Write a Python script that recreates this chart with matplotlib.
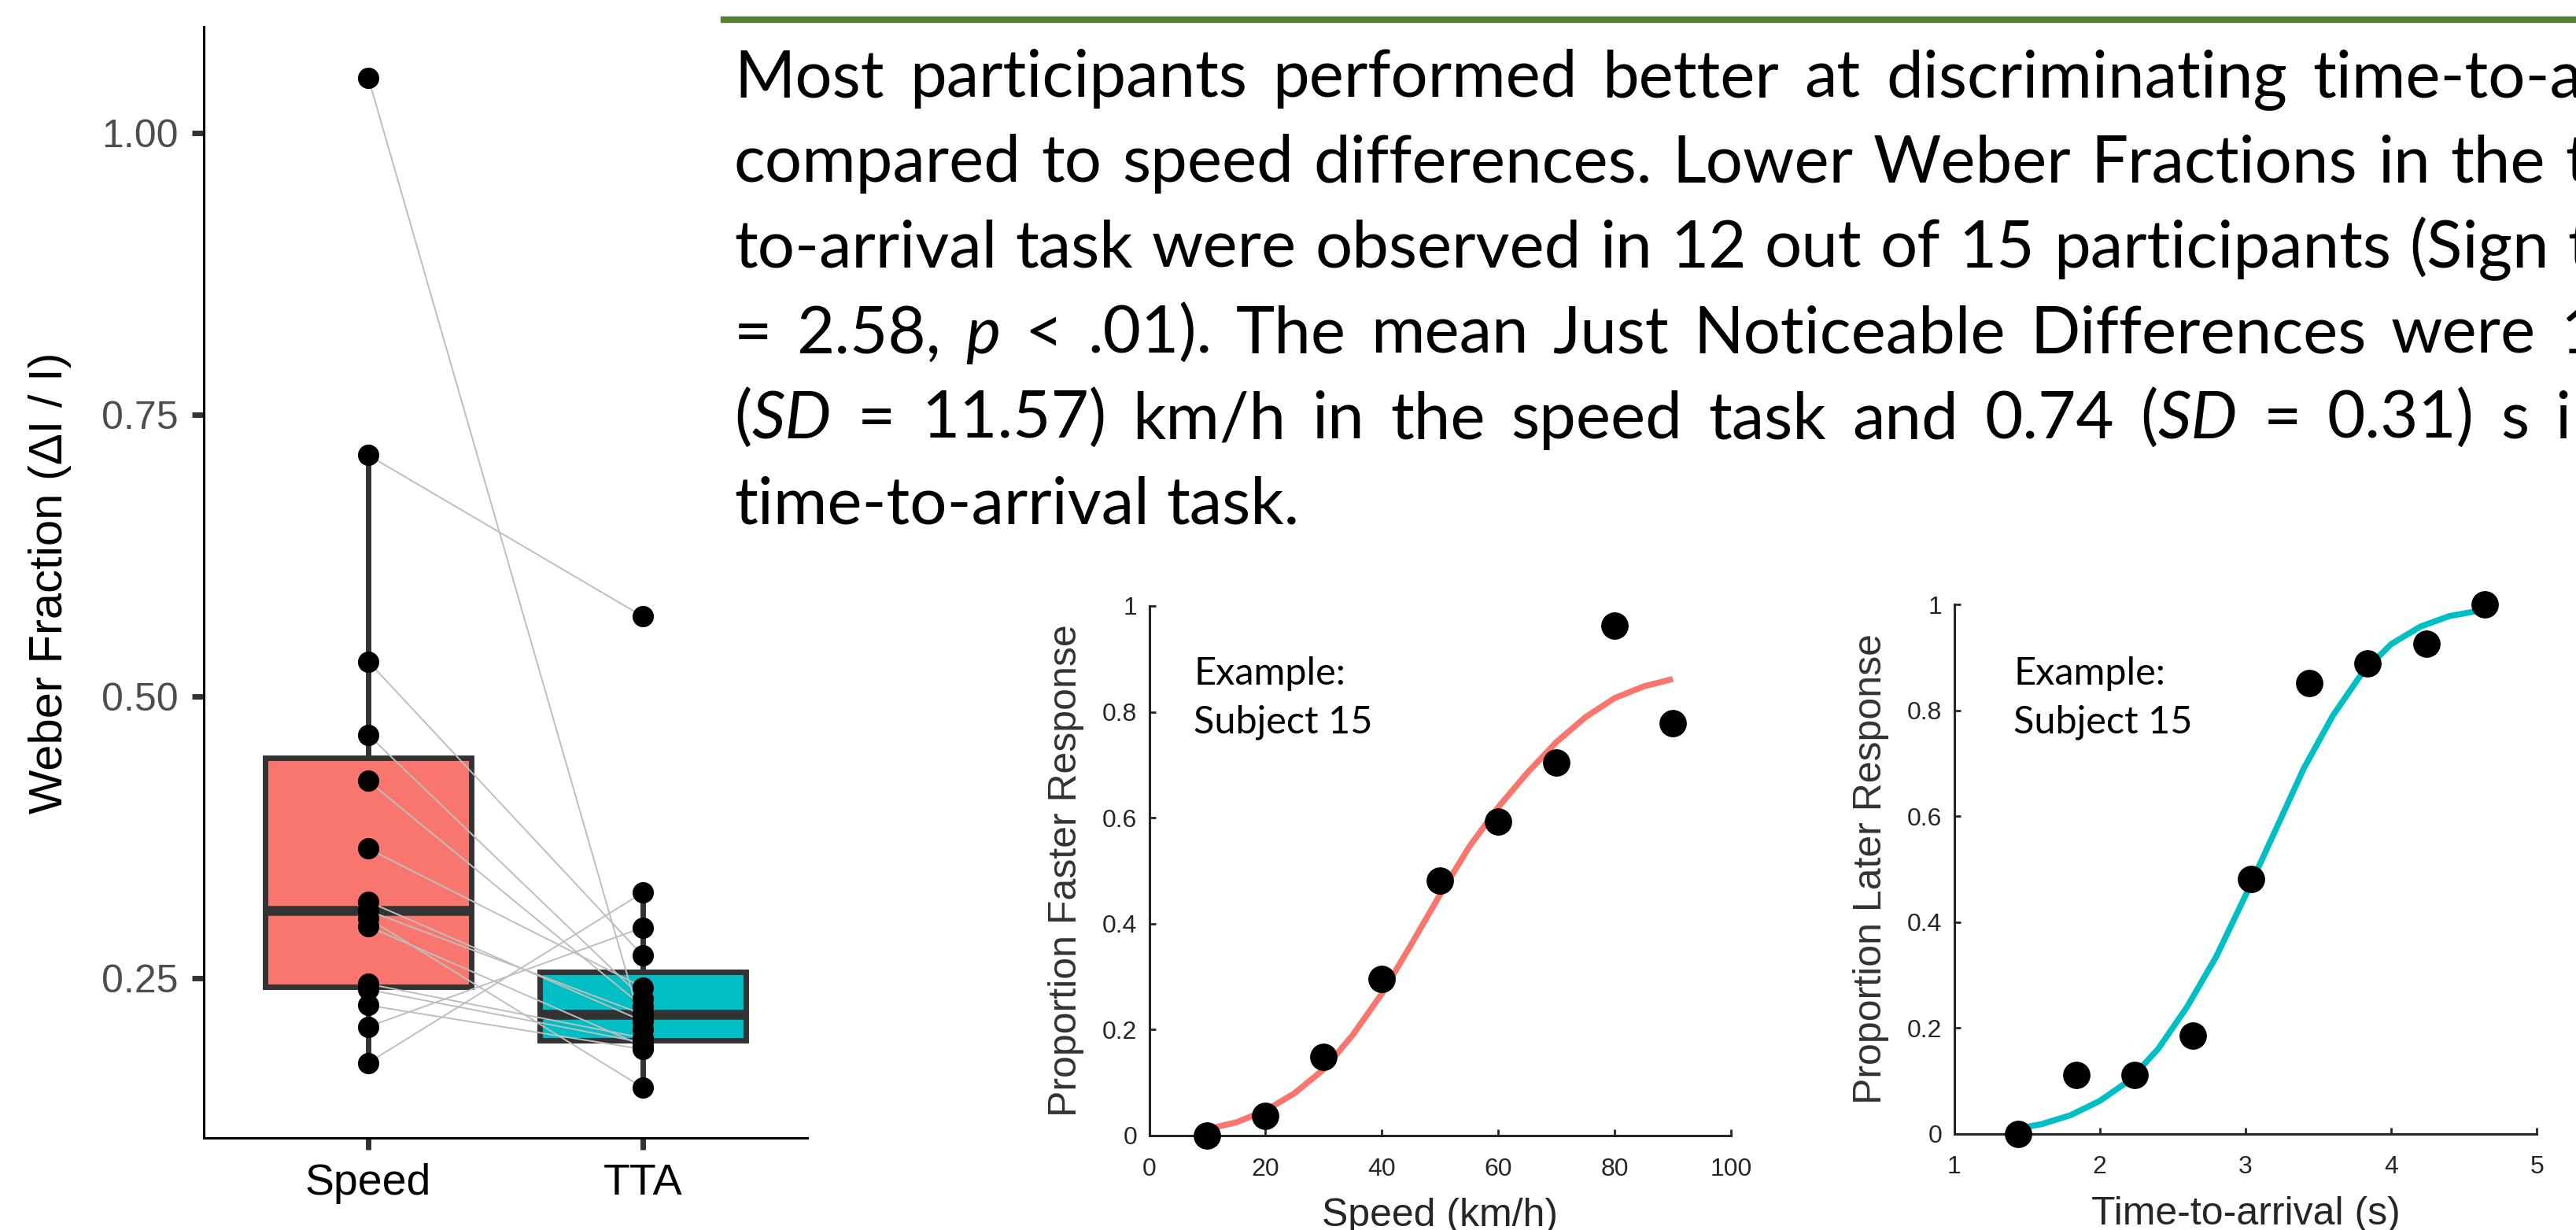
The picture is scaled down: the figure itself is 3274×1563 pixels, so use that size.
import matplotlib
matplotlib.use('Agg')
import matplotlib.pyplot as plt
from matplotlib.lines import Line2D

# %% data ------------------------------------------------------------------

# Weber fractions, one pair per participant (speed task, TTA task)
speed_wf = [1.049, 0.714, 0.531, 0.466, 0.425, 0.365, 0.318, 0.310,
            0.303, 0.296, 0.245, 0.240, 0.226, 0.207, 0.175]
tta_wf = [0.205, 0.571, 0.270, 0.232, 0.225, 0.242, 0.212, 0.218,
          0.153, 0.190, 0.197, 0.193, 0.187, 0.295, 0.326]
conditions = ['Speed', 'TTA']
wf_ticks = [0.25, 0.50, 0.75, 1.00]
wf_ticklabels = ['0.25', '0.50', '0.75', '1.00']

# example subject 15 - speed task
speed_levels = [10, 20, 30, 40, 50, 60, 70, 80, 90]
speed_prop = [0.0, 0.037, 0.148, 0.296, 0.481, 0.593, 0.704, 0.963, 0.778]
speed_fit_x = [10, 15, 20, 25, 30, 35, 40, 45, 50, 55, 60, 65, 70, 75, 80, 85, 90]
speed_fit_y = [0.012, 0.025, 0.047, 0.080, 0.125, 0.190, 0.268, 0.360, 0.455,
               0.545, 0.620, 0.685, 0.743, 0.790, 0.826, 0.848, 0.862]
speed_xticks = [0, 20, 40, 60, 80, 100]

# example subject 15 - time-to-arrival task
tta_levels = [1.44, 1.84, 2.24, 2.64, 3.04, 3.44, 3.84, 4.24, 4.64]
tta_prop = [0.0, 0.111, 0.111, 0.185, 0.481, 0.852, 0.889, 0.926, 1.0]
tta_fit_x = [1.44, 1.6, 1.8, 2.0, 2.2, 2.4, 2.6, 2.8, 3.0, 3.2, 3.4, 3.6,
             3.8, 4.0, 4.2, 4.4, 4.64]
tta_fit_y = [0.010, 0.018, 0.035, 0.062, 0.100, 0.160, 0.240, 0.335, 0.450,
             0.570, 0.690, 0.790, 0.870, 0.925, 0.958, 0.978, 0.990]
tta_xticks = [1, 2, 3, 4, 5]

prop_yticks = [0, 0.2, 0.4, 0.6, 0.8, 1]
prop_yticklabels = ['0', '0.2', '0.4', '0.6', '0.8', '1']

para_lines = [
    'Most participants performed better at discriminating time-to-a',
    'compared to speed differences. Lower Weber Fractions in the t',
    'to-arrival task were observed in 12 out of 15 participants (Sign t',
    '= 2.58, *p* < .01). The mean Just Noticeable Differences were 1',
    '(*SD* = 11.57) km/h in the speed task and 0.74 (*SD* = 0.31) s i',
    'time-to-arrival task.',
]

red = '#F8766D'
cyan = '#00BFC4'

# %% figure -----------------------------------------------------------------
W, H = 3274, 1563
fig = plt.figure(figsize=(W/100., H/100.), dpi=100)
fig.patch.set_facecolor('white')


def fx(px):
    return px/W


def fy(py):
    return 1 - py/H


# %% left panel: Weber fraction boxplot
ax = fig.add_axes([0.079, 0.0747, 0.2345, 0.9033])
ax.set_facecolor('none')
bp = ax.boxplot([speed_wf, tta_wf], positions=[1, 2], widths=0.75,
                patch_artist=True, showcaps=False, showfliers=False,
                boxprops=dict(edgecolor='#333333', linewidth=5),
                whiskerprops=dict(color='#333333', linewidth=5),
                medianprops=dict(color='#333333', linewidth=9,
                                 solid_capstyle='butt'))
for patch, c in zip(bp['boxes'], [red, cyan]):
    patch.set_facecolor(c)

for s, t in zip(speed_wf, tta_wf):
    ax.plot([1, 2], [s, t], color='#BEBEBE', lw=1.4, zorder=3)
ax.plot([1]*len(speed_wf), speed_wf, 'o', color='black', ms=18.5, zorder=4)
ax.plot([2]*len(tta_wf), tta_wf, 'o', color='black', ms=18.5, zorder=4)

lo = min(speed_wf + tta_wf)
hi = max(speed_wf + tta_wf)
ax.set_ylim(lo - 0.05*(hi - lo), hi + 0.05*(hi - lo))
ax.set_xlim(0.4, 2.6)
ax.set_xticks([1, 2])
ax.set_xticklabels(conditions, fontsize=40, family='Liberation Sans',
                   color='black')
ax.set_yticks(wf_ticks)
ax.set_yticklabels(wf_ticklabels, fontsize=36, family='Liberation Sans',
                   color='#4D4D4D')
ax.tick_params(axis='both', length=10.8, width=5, color='#333333')
ax.tick_params(axis='y', pad=12)
ax.tick_params(axis='x', pad=12)
for side in ['top', 'right']:
    ax.spines[side].set_visible(False)
for side in ['left', 'bottom']:
    ax.spines[side].set_linewidth(2.2)
    ax.spines[side].set_color('black')
ax.set_ylabel('Weber Fraction (\u0394I / I)', fontsize=43,
              family='Liberation Sans', color='black')
ax.yaxis.set_label_coords(-0.218, 0.5)


# %% right panels: psychometric functions for subject 15
def psy_panel(rect, xs, ys, fit_x, fit_y, color, xticks, xlabel, ylabel):
    a = fig.add_axes(rect)
    a.set_facecolor('none')
    a.plot(fit_x, fit_y, color=color, lw=5.5, zorder=2,
           solid_capstyle='butt')
    a.plot(xs, ys, 'o', color='black', ms=24, zorder=3, clip_on=False)
    a.set_xlim(xticks[0], xticks[-1])
    a.set_ylim(0, 1)
    a.set_xticks(xticks)
    a.set_xticklabels([str(v) for v in xticks], fontsize=23,
                      family='Liberation Sans', color='#262626')
    a.set_yticks(prop_yticks)
    a.set_yticklabels(prop_yticklabels, fontsize=23,
                      family='Liberation Sans', color='#262626')
    a.tick_params(direction='in', length=6, width=2, color='#262626')
    a.tick_params(axis='x', pad=20)
    a.tick_params(axis='y', pad=11)
    for side in ['top', 'right']:
        a.spines[side].set_visible(False)
    for side in ['left', 'bottom']:
        a.spines[side].set_linewidth(2.2)
        a.spines[side].set_color('#262626')
    a.set_xlabel(xlabel, fontsize=36, family='Liberation Sans',
                 color='#262626')
    a.set_ylabel(ylabel, fontsize=36, family='Liberation Sans',
                 color='#333333')
    a.xaxis.set_label_coords(0.5, -0.118)
    a.yaxis.set_label_coords(-0.112, 0.5)
    return a


ax_sp = psy_panel([0.4461, 0.0768, 0.2259, 0.4306], speed_levels, speed_prop,
                  speed_fit_x, speed_fit_y, red, speed_xticks,
                  'Speed (km/h)', 'Proportion Faster Response')
ax_tt = psy_panel([0.7586, 0.0783, 0.2262, 0.4303], tta_levels, tta_prop,
                  tta_fit_x, tta_fit_y, cyan, tta_xticks,
                  'Time-to-arrival (s)', 'Proportion Later Response')

for x0 in [1517, 2559]:
    fig.text(fx(x0), fy(870), 'Example:', fontsize=35, family='Lato',
             va='baseline', ha='left', color='black')
    fig.text(fx(x0), fy(932), 'Subject 15', fontsize=35, family='Lato',
             va='baseline', ha='left', color='black')

# %% green rule and justified paragraph
fig.add_artist(Line2D([fx(920), 1], [fy(25), fy(25)], color='#548235',
                      lw=6, transform=fig.transFigure))

PARA_FS = 60
renderer = fig.canvas.get_renderer()


def text_w(s, style):
    t = fig.text(0, 0, s, fontsize=PARA_FS, family='Lato', style=style)
    w = t.get_window_extent(renderer).width
    t.remove()
    return w


def split_word(word):
    segs = []
    for i, p in enumerate(word.split('*')):
        if p:
            segs.append((p, 'italic' if i % 2 else 'normal'))
    return segs


space_w = text_w('n n', 'normal') - text_w('nn', 'normal')
x_left = 933
last_word_x = [2939, 3260, 3263, 3254, 3247, None]
base0, lead = 123, 108.5

for k, line in enumerate(para_lines):
    words = [split_word(w) for w in line.split(' ')]
    widths = [sum(text_w(s, st) for s, st in w) for w in words]
    if last_word_x[k] is None:
        gap = space_w
    else:
        gap = (last_word_x[k] - x_left - sum(widths[:-1]))/(len(words) - 1)
    x = x_left
    y = base0 + k*lead
    for w, ww in zip(words, widths):
        xx = x
        for s, st in w:
            fig.text(fx(xx), fy(y), s, fontsize=PARA_FS, family='Lato',
                     style=st, va='baseline', ha='left', color='black')
            xx += text_w(s, st)
        x += ww + gap

fig.savefig('out.png', dpi=100, facecolor='white')
